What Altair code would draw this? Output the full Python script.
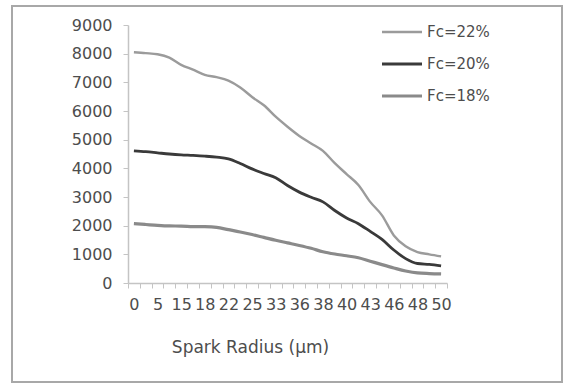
import json
import altair as alt
import pandas as pd

# ---- data ----
x_labels = ["0", "5", "15", "18", "22", "25", "33", "36", "38", "40", "43", "46", "48", "50"]
positions = list(range(1, 28))  # 27 category slots, every other one labelled

fc22 = [8050, 8020, 7980, 7860, 7610, 7440, 7260, 7180, 7060, 6820, 6490, 6200, 5800, 5450,
        5130, 4870, 4610, 4180, 3800, 3420, 2830, 2360, 1660, 1280, 1080, 1000, 930]
fc20 = [4610, 4580, 4540, 4500, 4470, 4450, 4425, 4390, 4330, 4170, 3980, 3820, 3670, 3400,
        3170, 2990, 2830, 2530, 2270, 2070, 1800, 1520, 1150, 850, 680, 650, 600]
fc18 = [2070, 2040, 2010, 1990, 1985, 1970, 1965, 1940, 1860, 1780, 1690, 1590, 1490, 1400,
        1310, 1210, 1090, 1010, 950, 880, 760, 640, 525, 420, 350, 330, 320]

series_names = ["Fc=22%", "Fc=20%", "Fc=18%"]
series_colors = ["#9b9b9b", "#3a3a3a", "#8a8a8a"]
series_widths = [2.4, 3.2, 2.4]
y_ticks = [0, 1000, 2000, 3000, 4000, 5000, 6000, 7000, 8000, 9000]

rows = []
for name, vals in zip(series_names, [fc22, fc20, fc18]):
    for p, v in zip(positions, vals):
        rows.append({"pos": p, "value": v, "series": name})
df = pd.DataFrame(rows)

FONT = "DejaVu Sans"
TXT = "#4d4d4d"
AXC = "#c4c4c4"

label_expr = f"datum.value % 2 == 1 ? {json.dumps(x_labels)}[floor((datum.value - 1) / 2)] : ''"

frame = alt.Chart(pd.DataFrame({"k": [0]})).mark_rect(
    filled=False, stroke="#a8a8a8", strokeWidth=2
).encode(
    x=alt.value(-116), x2=alt.value(434), y=alt.value(-19), y2=alt.value(357)
)

lines = alt.Chart(df).mark_line(interpolate="monotone").encode(
    x=alt.X(
        "pos:O",
        sort=positions,
        bandPosition=0.5,
        scale=alt.Scale(type="band", paddingInner=0, paddingOuter=0),
        axis=alt.Axis(
            title="Spark Radius (µm)",
            titleFont=FONT, titleFontSize=17, titleFontWeight="normal", titleColor=TXT,
            titleX=122, titleY=64, titleBaseline="middle", titleAnchor="middle", titleAlign="center",
            labelExpr=label_expr, labelAngle=0, labelOverlap=False,
            labelFont=FONT, labelFontSize=16, labelColor=TXT, labelPadding=8,
            tickBand="extent", tickSize=5, tickColor=AXC, domainColor=AXC, domainWidth=1.5,
            grid=False,
        ),
    ),
    y=alt.Y(
        "value:Q",
        scale=alt.Scale(domain=[0, 9000], nice=False),
        axis=alt.Axis(
            title=None, values=y_ticks, format="d",
            labelFont=FONT, labelFontSize=16, labelColor=TXT, labelPadding=11,
            tickSize=5, tickColor=AXC, domainColor=AXC, domainWidth=1.5, grid=False,
        ),
    ),
    color=alt.Color(
        "series:N",
        sort=series_names,
        scale=alt.Scale(domain=series_names, range=series_colors),
        legend=alt.Legend(
            title=None, orient="none", legendX=252, legendY=-3, padding=0,
            symbolType="stroke", symbolSize=1600, symbolStrokeWidth=3,
            symbolOffset=0, clipHeight=20, rowPadding=12,
            labelFont=FONT, labelFontSize=15, labelColor=TXT, labelOffset=3,
        ),
    ),
    strokeWidth=alt.StrokeWidth(
        "series:N", scale=alt.Scale(domain=series_names, range=series_widths), legend=None
    ),
)

chart = alt.layer(frame, lines).properties(
    width=319,
    height=258,
    autosize=alt.AutoSizeParams(type="none"),
    padding={"left": 128, "top": 25, "right": 118, "bottom": 100},
    background="white",
).configure_view(stroke=None)

chart.save("out.html", embed_options={"renderer": "svg", "actions": False})
